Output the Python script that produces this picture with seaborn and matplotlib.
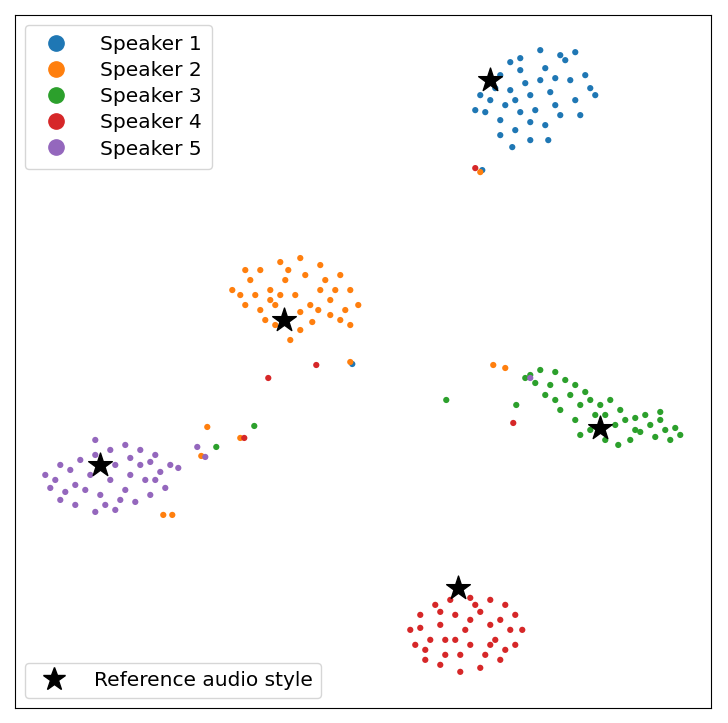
import matplotlib
matplotlib.use("Agg")
import matplotlib.pyplot as plt
import seaborn as sns
import pandas as pd
from matplotlib.lines import Line2D

speaker1 = [(530,95),(510,90),(550,92),(520,70),(545,68),(565,60),(540,50),(520,58),(500,75),(490,100),(485,112),(475,110),(500,120),(515,130),(530,140),(512,147),(545,125),(560,115),(575,100),(590,88),(585,75),(570,80),(555,105),(535,110),(520,112),(505,105),(495,88),(480,95),(560,55),(575,52),(525,83),(540,80),(555,78),(515,100),(500,135),(548,140),(530,122),(580,115),(595,95),(510,62),(482,170),(352,364)]
speaker2 = [(295,295),(270,290),(320,290),(250,280),(240,295),(232,290),(260,270),(280,262),(300,258),(320,265),(340,275),(350,290),(358,305),(345,310),(330,315),(312,322),(300,330),(290,340),(275,325),(260,310),(245,305),(255,295),(275,305),(310,305),(330,300),(340,320),(350,325),(285,280),(305,275),(325,280),(265,320),(300,312),(288,270),(245,270),(270,300),(318,310),(335,290),(280,295),(493,365),(505,368),(350,362),(207,427),(240,438),(163,515),(172,515),(201,456),(480,172)]
speaker3 = [(530,375),(540,370),(555,372),(550,385),(535,383),(565,380),(575,385),(570,395),(585,392),(590,400),(580,405),(600,405),(610,400),(605,415),(620,410),(625,420),(615,425),(635,418),(645,415),(650,425),(660,420),(665,430),(675,428),(680,435),(670,440),(655,437),(640,432),(630,440),(618,445),(605,440),(590,430),(580,435),(575,420),(560,410),(555,400),(545,395),(595,415),(635,430),(660,412),(525,378),(446,400),(516,405),(254,426),(216,447)]
speaker4 = [(465,630),(440,625),(490,625),(420,615),(410,630),(415,645),(425,660),(440,665),(460,672),(480,668),(500,660),(515,645),(522,630),(515,615),(505,605),(490,600),(470,598),(450,600),(435,605),(445,640),(470,645),(495,640),(455,615),(480,612),(430,640),(500,620),(460,655),(485,655),(445,655),(420,628),(510,630),(470,620),(440,612),(475,605),(425,650),(505,650),(455,640),(490,645),(268,378),(316,365),(513,423),(475,168),(244,438)]
speaker5 = [(110,480),(90,475),(130,475),(70,470),(55,480),(50,488),(60,500),(75,505),(95,512),(115,510),(135,502),(150,495),(165,488),(178,468),(170,465),(155,455),(140,450),(125,445),(110,450),(95,455),(80,460),(60,465),(75,485),(100,495),(125,490),(145,480),(160,472),(85,490),(115,465),(140,465),(65,492),(105,505),(150,462),(130,458),(45,475),(95,440),(155,480),(120,500),(197,447),(205,457),(530,378)]
speakers = ["Speaker 1","Speaker 2","Speaker 3","Speaker 4","Speaker 5"]
ref_x = [490, 284, 600, 458, 100]
ref_y = [80, 320, 428, 588, 465]

rows = []
for name, pts in zip(speakers, [speaker1, speaker2, speaker3, speaker4, speaker5]):
    for x, y in pts:
        rows.append({"x": x, "y": y, "speaker": name})
df = pd.DataFrame(rows)

fig = plt.figure(figsize=(7.28, 7.23), dpi=100)
ax = fig.add_axes([0.021, 0.021, 0.956, 0.958])
palette = sns.color_palette("tab10", 5)
sns.scatterplot(data=df, x="x", y="y", hue="speaker", palette=palette, s=20,
                linewidth=0, ax=ax, legend=False)
ax.scatter(ref_x, ref_y, marker="*", s=320, color="black", edgecolor="black",
           linewidth=1, zorder=5)
ax.set_xlim(15, 711)
ax.set_ylim(708, 15)
ax.set_xticks([]); ax.set_yticks([])
ax.set_xlabel(""); ax.set_ylabel("")

h1 = [Line2D([], [], marker="o", linestyle="", color=palette[i], markersize=11) for i in range(5)]
leg1 = ax.legend(h1, speakers, loc="upper left", fontsize=14.5, handletextpad=1.2,
                 borderpad=0.5, labelspacing=0.35)
ax.add_artist(leg1)
h2 = [Line2D([], [], marker="*", linestyle="", color="black", markersize=17)]
ax.legend(h2, ["Reference audio style"], loc="lower left", fontsize=14.5, handletextpad=1.0)
fig.savefig("out.png", dpi=100)
